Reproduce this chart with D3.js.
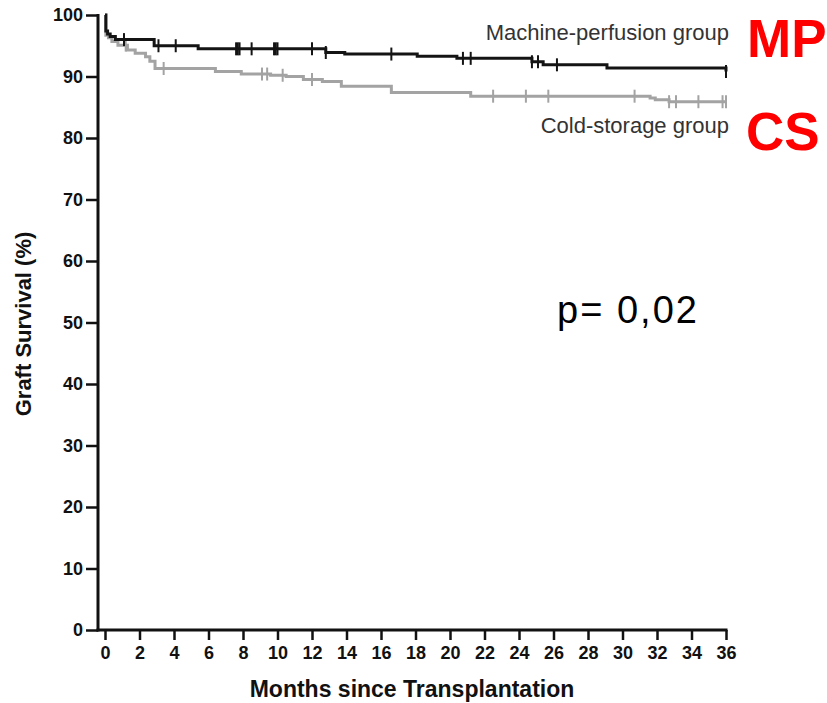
<!DOCTYPE html>
<html>
<head>
<meta charset="utf-8">
<script src="https://cdn.jsdelivr.net/npm/d3@7"></script>
<style>
  body { margin: 0; background: #fff; }
  text { font-family: "Liberation Sans", Arial, sans-serif; }
</style>
</head>
<body>
<div id="main"></div>
<script>
// Kaplan-Meier steps (months, survival %)
const mpTimes = [0, 0.05, 0.15, 0.3, 0.6, 2.85, 5.4, 12.8, 13.9, 18.1, 20.4, 24.75, 25.4, 29.1, 36];
const mpSurv  = [100, 97.4, 96.9, 96.5, 96.0, 95.0, 94.5, 93.9, 93.65, 93.3, 92.95, 92.4, 91.9, 91.4, 90.8];
const mpCensored = [1.1, 3.1, 4.1, 7.6, 7.7, 7.8, 8.5, 9.8, 9.9, 10.0, 12.0, 12.8, 16.6, 20.75, 21.2, 24.75, 25.1, 26.2, 36];

const csTimes = [0, 0.05, 0.2, 0.4, 0.75, 1.3, 1.75, 2.35, 2.6, 2.9, 6.4, 7.9, 9.6, 10.5, 11.5, 12.6, 13.7, 16.6, 21.2, 31.6, 31.9, 32.7, 36];
const csSurv  = [100, 96.7, 96.3, 95.7, 95.1, 94.3, 93.8, 93.2, 92.5, 91.3, 90.8, 90.4, 90.2, 90.0, 89.5, 89.2, 88.4, 87.4, 86.8, 86.5, 86.2, 85.9, 85.9];
const csCensored = [1.2, 3.4, 9.1, 9.4, 10.3, 12.0, 22.5, 24.4, 25.7, 30.7, 32.7, 33.1, 34.4, 35.8, 36.0];

const xTicks = d3.range(0, 37, 2);
const yTicks = d3.range(0, 101, 10);

const width = 827, height = 703;
const axisX = 98;        // where the y axis sits
const margin = { top: 15, bottom: 73, left: 105, right: 101 };

const svg = d3.select('#main').append('svg').attr('width', width).attr('height', height);

const xScale = d3.scaleLinear().domain([0, 36]).range([margin.left, width - margin.right]);
const yScale = d3.scaleLinear().domain([0, 100]).range([height - margin.bottom, margin.top]);

function survivalAt(times, surv, t) {
    let i = d3.bisectRight(times, t) - 1;
    return surv[Math.max(0, i)];
}

function drawCurve(times, surv, censored, color) {
    const pts = times.map((t, i) => [t, surv[i]]);
    const line = d3.line()
        .x(d => xScale(d[0]))
        .y(d => yScale(d[1]))
        .curve(d3.curveStepAfter);

    svg.append('path')
        .datum(pts)
        .attr('d', line)
        .attr('fill', 'none')
        .attr('stroke', color)
        .attr('stroke-width', 3);

    svg.append('g').selectAll('line')
        .data(censored)
        .enter()
            .append('line')
                .attr('x1', d => xScale(d))
                .attr('x2', d => xScale(d))
                .attr('y1', d => yScale(survivalAt(times, surv, d)) - 6.5)
                .attr('y2', d => yScale(survivalAt(times, surv, d)) + 6.5)
                .attr('stroke', color)
                .attr('stroke-width', 2);
}

function drawAxes() {
    const gy = svg.append('g')
        .attr('transform', `translate(${axisX},0)`)
        .call(d3.axisLeft(yScale).tickValues(yTicks).tickSize(12).tickPadding(3));
    gy.select('.domain').remove();
    gy.selectAll('.tick line').attr('stroke', '#111').attr('stroke-width', 2.5);
    gy.selectAll('.tick text')
        .style('font-family', '"Liberation Sans", Arial, sans-serif')
        .style('font-size', '18px').style('font-weight', 'bold').attr('fill', '#111');

    const gx = svg.append('g')
        .attr('transform', `translate(0,${yScale(0)})`)
        .call(d3.axisBottom(xScale).tickValues(xTicks).tickSize(10).tickPadding(6));
    gx.select('.domain').remove();
    gx.selectAll('.tick line').attr('stroke', '#111').attr('stroke-width', 2.5);
    gx.selectAll('.tick text')
        .style('font-family', '"Liberation Sans", Arial, sans-serif')
        .style('font-size', '18px').style('font-weight', 'bold').attr('fill', '#111');

    // axis lines
    svg.append('line')
        .attr('x1', axisX).attr('x2', axisX)
        .attr('y1', yScale(0) + 1.5).attr('y2', yScale(100) - 1)
        .attr('stroke', '#111').attr('stroke-width', 3);
    svg.append('line')
        .attr('x1', axisX - 1.5).attr('x2', xScale(36) + 1.5)
        .attr('y1', yScale(0)).attr('y2', yScale(0))
        .attr('stroke', '#111').attr('stroke-width', 3);

    svg.append('text')
        .attr('x', (axisX + xScale(36)) / 2)
        .attr('y', 697)
        .style('font-size', '23px')
        .style('font-weight', 'bold')
        .style('text-anchor', 'middle')
        .attr('fill', '#111')
        .text('Months since Transplantation');

    svg.append('text')
        .attr('transform', 'translate(31,324) rotate(-90)')
        .style('font-size', '22px')
        .style('font-weight', 'bold')
        .style('text-anchor', 'middle')
        .attr('fill', '#111')
        .text('Graft Survival (%)');
}

function drawLabels() {
    svg.append('text')
        .attr('x', 729).attr('y', 40)
        .style('font-size', '22px').style('text-anchor', 'end')
        .attr('fill', '#333')
        .text('Machine-perfusion group');
    svg.append('text')
        .attr('x', 729).attr('y', 133)
        .style('font-size', '22px').style('text-anchor', 'end')
        .attr('fill', '#333')
        .text('Cold-storage group');
    svg.append('text')
        .attr('x', 747).attr('y', 57)
        .style('font-size', '53px').style('font-weight', 'bold')
        .attr('fill', '#ff0000')
        .text('MP');
    svg.append('text')
        .attr('x', 746).attr('y', 150)
        .style('font-size', '53px').style('font-weight', 'bold')
        .attr('fill', '#ff0000')
        .text('CS');
    svg.append('text')
        .attr('x', 557).attr('y', 323)
        .style('font-size', '38px')
        .attr('textLength', 140)
        .attr('fill', '#000')
        .text('p= 0,02');
}

drawAxes();
drawCurve(csTimes, csSurv, csCensored, '#a3a3a3');
drawCurve(mpTimes, mpSurv, mpCensored, '#141414');
drawLabels();
</script>
</body>
</html>
